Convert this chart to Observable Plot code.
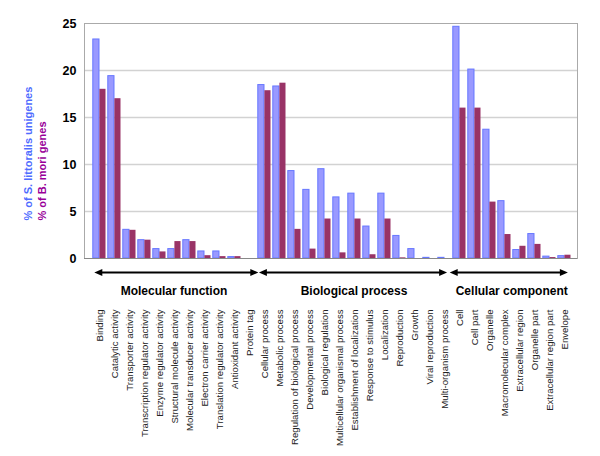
<!DOCTYPE html>
<html>
<head>
<meta charset="utf-8">
<script src="https://cdn.jsdelivr.net/npm/d3@7"></script>
<script src="https://cdn.jsdelivr.net/npm/@observablehq/plot@0.6"></script>
<style>
  html, body { margin: 0; padding: 0; background: #fff; }
  #chart svg { display: block; }
</style>
</head>
<body>
<div id="chart"></div>
<script>
// ---- data ----
const categories = [
  "Binding", "Catalytic activity", "Transporter activity", "Transcription regulator activity",
  "Enzyme regulator activity", "Structural molecule activity", "Molecular transducer activity",
  "Electron carrier activity", "Translation regulator activity", "Antioxidant activity", "Protein tag",
  "Cellular process", "Metabolic process", "Regulation of biological process", "Developmental process",
  "Biological regulation", "Multicellular organismal process", "Establishment of localization",
  "Response to stimulus", "Localization", "Reproduction", "Growth", "Viral reproduction",
  "Multi-organism process",
  "Cell", "Cell part", "Organelle", "Macromolecular complex", "Extracellular region",
  "Organelle part", "Extracellular region part", "Envelope"
];
const groupNames = ["Molecular function", "Biological process", "Cellular component"];
const groupSizes = [11, 13, 8];
const sLittoralis = [
  23.3, 19.4, 3.05, 1.95, 1.0, 1.0, 1.95, 0.75, 0.75, 0.15, 0,
  18.45, 18.3, 9.3, 7.3, 9.5, 6.5, 6.9, 3.4, 6.9, 2.4, 1.0, 0.07, 0.07,
  24.65, 20.1, 13.7, 6.1, 0.9, 2.6, 0.2, 0.25
];
const bMori = [
  18.0, 17.0, 3.0, 1.95, 0.7, 1.8, 1.8, 0.3, 0.2, 0.2, 0,
  17.85, 18.65, 3.1, 1.0, 4.2, 0.6, 4.2, 0.4, 4.2, 0.07, 0, 0, 0,
  16.0, 16.0, 6.0, 2.55, 1.3, 1.5, 0.1, 0.35
];
const yTicks = [0, 5, 10, 15, 20, 25];
const gridTicks = [5, 10, 15, 20];

// ---- layout / style ----
const W = 600, H = 456, mL = 84, mR = 23, mT = 23, mB = 198;
const bw = (W - mL - mR) / categories.length;
const blueFill = "#9999ff", blueStroke = "#6677ff", redFill = "#993366";

const sRows = categories.map((c, i) => ({cat: c, v: sLittoralis[i]})).filter(d => d.v > 0);
const bRows = categories.map((c, i) => ({cat: c, v: bMori[i]})).filter(d => d.v > 0);

// arrow tip offsets (px) relative to group band edges
const leftOff = [3, 2.6, -1.6];
const rightOff = [1.6, -4.6, -3.8];
const triLeft = {draw(c) { c.moveTo(-4, 0); c.lineTo(4, -3.6); c.lineTo(4, 3.6); c.closePath(); }};
const triRight = {draw(c) { c.moveTo(4, 0); c.lineTo(-4, -3.6); c.lineTo(-4, 3.6); c.closePath(); }};

const groupMarks = [];
let start = 0;
groupSizes.forEach((n, g) => {
  const cats = categories.slice(start, start + n);
  const first = cats[0], last = cats[n - 1], mid = cats.slice(1, n - 1);
  const lo = leftOff[g], ro = rightOff[g];
  groupMarks.push(
    Plot.tickY(mid, {x: d => d, y: 0, dy: 14, stroke: "black", strokeWidth: 2}),
    Plot.tickY([first], {x: d => d, y: 0, dy: 14, stroke: "black", strokeWidth: 2, insetLeft: Math.max(0, lo + 4)}),
    Plot.tickY([last], {x: d => d, y: 0, dy: 14, stroke: "black", strokeWidth: 2, insetRight: Math.max(0, 4 - ro)}),
    Plot.dot([first], {x: d => d, y: 0, dy: 14, dx: lo + 4 - bw / 2, symbol: triLeft, fill: "black", r: 4}),
    Plot.dot([last], {x: d => d, y: 0, dy: 14, dx: ro - 4 + bw / 2, symbol: triRight, fill: "black", r: 4})
  );
  const odd = n % 2 === 1;
  const anchor = odd ? cats[(n - 1) / 2] : cats[n / 2 - 1];
  groupMarks.push(
    Plot.text([groupNames[g]], {x: () => anchor, y: 0, dy: 33, dx: odd ? 0 : bw / 2, text: d => d,
      fontWeight: "bold", fontSize: 12, fill: "black"})
  );
  start += n;
});

const chart = Plot.plot({
  width: W, height: H,
  marginLeft: mL, marginRight: mR, marginTop: mT, marginBottom: mB,
  style: {fontFamily: "'Liberation Sans', Arial, Helvetica, sans-serif", background: "white"},
  x: {type: "band", domain: categories, paddingInner: 0, paddingOuter: 0, axis: null},
  y: {domain: [0, 25], axis: null},
  marks: [
    Plot.ruleY(gridTicks, {stroke: "#d2d2d2", strokeWidth: 1.3}),
    Plot.frame({stroke: "#aaaaaa"}),
    Plot.barY(sRows, {x: "cat", y: "v", fill: blueFill, stroke: blueStroke, strokeWidth: 1,
      insetLeft: 1.8, insetRight: bw - 8.4}),
    Plot.barY(bRows, {x: "cat", y: "v", fill: redFill, insetLeft: 8.4, insetRight: 0.5}),
    Plot.ruleY([0], {stroke: "#888888"}),
    Plot.text(yTicks, {y: d => d, frameAnchor: "left", dx: -8, text: d => String(d), textAnchor: "end",
      fontWeight: "bold", fontSize: 12.5, fill: "black"}),
    Plot.text(categories, {x: d => d, y: 0, dy: 51, dx: 0.5, text: d => d, rotate: -90, textAnchor: "end",
      fontSize: 9.6, fill: "#222"}),
    ...groupMarks,
    Plot.text(["% of S. littoralis unigenes"], {frameAnchor: "bottom-left", dx: -53, dy: -38, text: d => d,
      rotate: -90, textAnchor: "start", fontWeight: "bold", fontSize: 11, fill: "#4f6cff", ariaLabel: "ylab-s"}),
    Plot.text(["% of B. mori genes"], {frameAnchor: "bottom-left", dx: -39, dy: -38, text: d => d,
      rotate: -90, textAnchor: "start", fontWeight: "bold", fontSize: 11, fill: "#990099", ariaLabel: "ylab-b"})
  ]
});

document.getElementById("chart").appendChild(chart);

// italic species names
function italicize(label, pre, it, post) {
  const t = d3.select(chart).select(`g[aria-label="${label}"] text`);
  if (t.empty()) return;
  t.text(null);
  t.append("tspan").text(pre);
  t.append("tspan").attr("font-style", "italic").text(it);
  t.append("tspan").text(post);
}
italicize("ylab-s", "% of ", "S. littoralis", " unigenes");
italicize("ylab-b", "% of ", "B. mori", " genes");
</script>
</body>
</html>
